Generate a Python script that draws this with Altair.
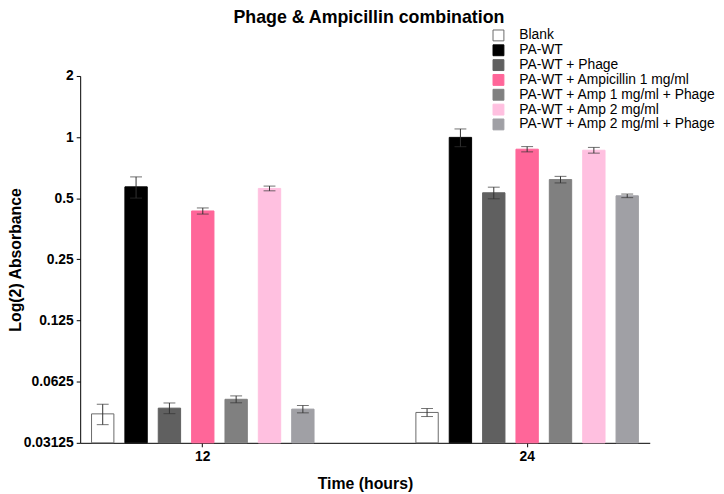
import altair as alt
import pandas as pd

groups = ["12", "24"]
series = [
    "Blank",
    "PA-WT",
    "PA-WT + Phage",
    "PA-WT + Ampicillin 1 mg/ml",
    "PA-WT + Amp 1 mg/ml + Phage",
    "PA-WT + Amp 2 mg/ml",
    "PA-WT + Amp 2 mg/ml + Phage",
]
values_12 = [0.0434, 0.569, 0.0463, 0.433, 0.0512, 0.559, 0.0458]
errors_12 = [0.005, 0.068, 0.0028, 0.015, 0.002, 0.015, 0.0019]
values_24 = [0.0441, 0.997, 0.532, 0.872, 0.618, 0.862, 0.514]
errors_24 = [0.002, 0.10, 0.035, 0.026, 0.023, 0.028, 0.0105]
fill_colors = ["#FFFFFF", "#000000", "#606060", "#FF6699", "#808080", "#FFC0E0", "#A0A0A5"]
stroke_colors = ["#6A6A6A", "#000000", "#606060", "#FF6699", "#808080", "#FFC0E0", "#A0A0A5"]
y_ticks = [0.03125, 0.0625, 0.125, 0.25, 0.5, 1, 2]
YMIN = y_ticks[0]
YMAX = y_ticks[-1]

rows = []
for g, vals, errs in [("12", values_12, errors_12), ("24", values_24, errors_24)]:
    for s, v, e in zip(series, vals, errs):
        rows.append({"group": g, "series": s, "value": v, "lo": v - e, "hi": v + e})
df = pd.DataFrame(rows)

FONT = "Liberation Sans"

x_enc = alt.X(
    "group:N",
    sort=groups,
    scale=alt.Scale(paddingInner=0.314, paddingOuter=0.035),
    axis=alt.Axis(title="Time (hours)", labelAngle=0, titlePadding=12),
)
xo_enc = alt.XOffset("series:N", sort=series, scale=alt.Scale(paddingInner=0.33, paddingOuter=0))
y_scale = alt.Scale(type="log", base=2, domain=[YMIN, YMAX], nice=False)
y_axis = alt.Axis(title="Log(2) Absorbance", values=y_ticks, format="~g", titlePadding=0)

legend = alt.Legend(
    title=None,
    orient="none",
    legendX=416,
    legendY=-48,
    symbolType="square",
    symbolSize=121,
    symbolStrokeWidth=1,
    labelFont=FONT,
    labelFontSize=14,
    labelColor="black",
    labelLimit=400,
    rowPadding=-1,
    labelOffset=14,
    padding=0,
)

base = alt.Chart(df)

bars = base.mark_bar(strokeWidth=1).encode(
    x=x_enc,
    xOffset=xo_enc,
    y=alt.Y("value:Q", scale=y_scale, axis=y_axis),
    y2=alt.datum(YMIN),
    fill=alt.Fill("series:N", sort=series, scale=alt.Scale(domain=series, range=fill_colors), legend=legend),
    stroke=alt.Stroke("series:N", sort=series, scale=alt.Scale(domain=series, range=stroke_colors), legend=legend),
)

whisker = base.mark_rule(color="#333333", strokeWidth=1).encode(
    x=x_enc,
    xOffset=xo_enc,
    y=alt.Y("lo:Q", scale=y_scale, axis=y_axis),
    y2="hi:Q",
)
cap_hi = base.mark_tick(color="#333333", size=12, thickness=1, orient="horizontal").encode(
    x=x_enc,
    xOffset=xo_enc,
    y=alt.Y("hi:Q", scale=y_scale, axis=y_axis),
)
cap_lo = base.mark_tick(color="#333333", size=12, thickness=1, orient="horizontal").encode(
    x=x_enc,
    xOffset=xo_enc,
    y=alt.Y("lo:Q", scale=y_scale, axis=y_axis),
)

chart = (
    alt.layer(bars, whisker, cap_hi, cap_lo)
    .properties(
        width=576,
        height=371,
        autosize=alt.AutoSizeParams(type="none"),
        padding={"left": 73, "top": 66, "right": 67, "bottom": 49},
        title=alt.TitleParams(
            "Phage & Ampicillin combination",
            font=FONT,
            fontSize=18,
            fontWeight="bold",
            color="black",
            anchor="middle",
            frame="group",
            dx=4,
            dy=2,
        ),
    )
    .configure_view(stroke=None)
    .configure_axis(
        domainColor="black",
        domainWidth=1,
        tickColor="black",
        tickSize=4,
        grid=False,
        labelFont=FONT,
        labelFontSize=14,
        labelFontWeight="bold",
        labelColor="black",
        labelPadding=3,
        titleFont=FONT,
        titleFontSize=16,
        titleFontWeight="bold",
        titleColor="black",
    )
)

chart.save("out.html", embed_options={"renderer": "svg", "actions": False})
